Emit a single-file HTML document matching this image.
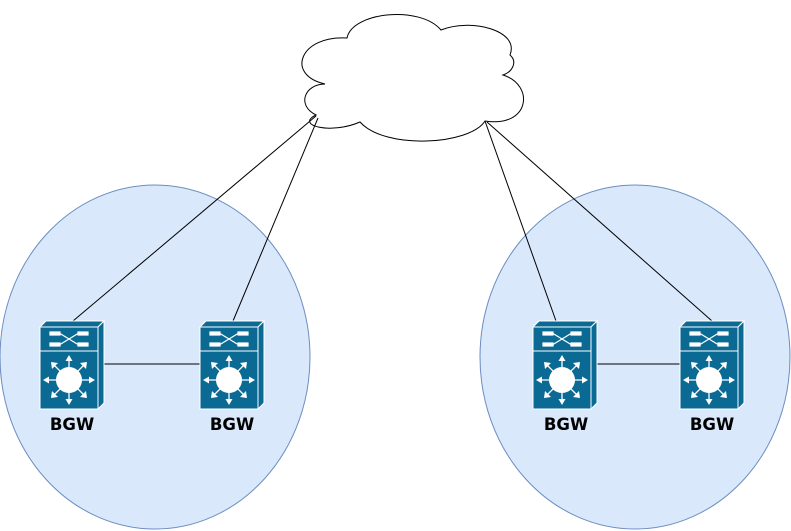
<!DOCTYPE html>
<html><head><style>html,body{margin:0;padding:0;background:#fff}svg{display:block}</style></head>
<body>
<svg width="791" height="531" viewBox="0 0 791 531" xmlns="http://www.w3.org/2000/svg">
<defs>
<g id="sw">
  <path d="M0,6 L6,0 L64,0 L58,6 Z" fill="#0a6a94" stroke="#fff" stroke-width="1"/>
  <path d="M58,6 L64,0 L64,82 L58,88 Z" fill="#0a6a94" stroke="#fff" stroke-width="1"/>
  <rect x="0" y="6" width="58" height="24" fill="#0a6a94" stroke="#fff" stroke-width="1"/>
  <rect x="0" y="30" width="58" height="58" fill="#0a6a94" stroke="#fff" stroke-width="1"/>
  <g stroke="#fff" stroke-width="1.2" fill="#fff">
    <rect x="10" y="11" width="10" height="3"/><rect x="38" y="11" width="10" height="3"/>
    <rect x="10" y="22" width="10" height="3"/><rect x="38" y="22" width="10" height="3"/>
    <line x1="20" y1="12.5" x2="38" y2="23.5"/><line x1="20" y1="23.5" x2="38" y2="12.5"/>
  </g>
  <circle cx="29" cy="59" r="13" fill="#fff"/>
  <g stroke="#fff" stroke-width="1.3">
    <line x1="29" y1="36" x2="29" y2="82"/><line x1="5" y1="59" x2="53" y2="59"/>
    <line x1="13" y1="43" x2="45" y2="75"/><line x1="45" y1="43" x2="13" y2="75"/>
  </g>
  <g fill="#fff">
    <path d="M29,34 l-3.5,6 h7z"/><path d="M29,84 l-3.5,-6 h7z"/>
    <path d="M3,59 l6,-3.5 v7z"/><path d="M55,59 l-6,-3.5 v7z"/>
    <path d="M11,41 l7,1 l-6,6z"/><path d="M47,41 l-7,1 l6,6z"/>
    <path d="M11,77 l7,-1 l-6,-6z"/><path d="M47,77 l-7,-1 l6,-6z"/>
  </g>
</g>
</defs>
<ellipse cx="155" cy="357" rx="155" ry="172" fill="#dae8fc" stroke="#6c8ebf"/>
<ellipse cx="635" cy="357" rx="155" ry="172" fill="#dae8fc" stroke="#6c8ebf"/>
<path d="M347,38 C352,12 420,5 441,30 C470,18 520,30 510,55 C518,62 512,72 503,75 C535,85 530,128 485,121 C470,145 385,150 360,122 C330,135 295,125 316,115 C296,105 305,84 325,84 C285,75 300,35 347,38 Z" fill="#fff" stroke="#000" stroke-width="1"/>
<g stroke="#000" stroke-width="1">
  <line x1="316" y1="116" x2="73" y2="321"/>
  <line x1="318" y1="118" x2="233" y2="321"/>
  <line x1="485" y1="121" x2="556" y2="321"/>
  <line x1="487" y1="122" x2="712" y2="321"/>
  <line x1="102" y1="364" x2="200" y2="364"/>
  <line x1="597" y1="364" x2="680" y2="364"/>
</g>
<use href="#sw" x="40" y="321"/>
<use href="#sw" x="200" y="321"/>
<use href="#sw" x="533" y="321"/>
<use href="#sw" x="680" y="321"/>
<g font-family="'DejaVu Sans', 'Liberation Sans', sans-serif" font-weight="bold" font-size="16.5" text-anchor="middle" fill="#000">
  <text x="72" y="430">BGW</text>
  <text x="232" y="430">BGW</text>
  <text x="566" y="430">BGW</text>
  <text x="712" y="430">BGW</text>
</g>
</svg>
</body></html>
